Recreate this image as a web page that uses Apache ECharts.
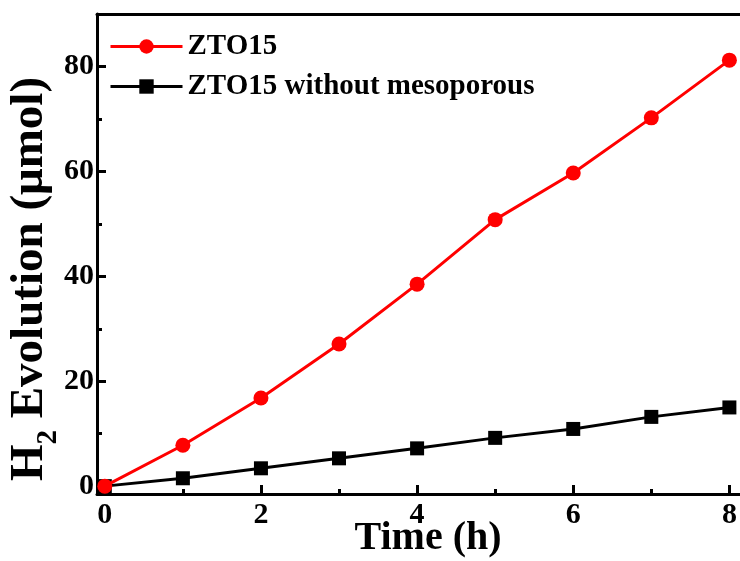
<!DOCTYPE html>
<html>
<head>
<meta charset="utf-8">
<script src="https://cdn.jsdelivr.net/npm/echarts@6/dist/echarts.min.js"></script>
<style>html,body{margin:0;padding:0;background:#fff;}#c{width:740px;height:561px;}</style>
</head>
<body>
<div id="c"></div>
<script>
const timeH = [0, 1, 2, 3, 4, 5, 6, 7, 8];
const zto15 = [0, 7.8, 16.8, 27.1, 38.5, 50.8, 59.7, 70.2, 81.2];
const zto15NoMeso = [0, 1.5, 3.4, 5.3, 7.2, 9.2, 10.9, 13.2, 15.0];
const xMajorTicks = [0, 2, 4, 6, 8];
const xMinorTicks = [1, 3, 5, 7];
const yMajorTicks = [0, 20, 40, 60, 80];
const yMinorTicks = [10, 30, 50, 70];
const seriesNames = ['ZTO15', 'ZTO15 without mesoporous'];

const FONT = '"Liberation Serif", "Times New Roman", serif';
const chart = echarts.init(document.getElementById('c'));
const pairs = (ys) => timeH.map((t, i) => [t, ys[i]]);
const XMIN = -0.1, XMAX = 8.2, YMIN = -1.5, YMAX = 90;
const lineStyle = {color: '#000', width: 3};
const none = {show: false};

function tickAxis(min, max, pos, values, len) {
  return {
    type: 'value', min, max, position: pos,
    axisLine: {show: false, onZero: false}, axisLabel: none, splitLine: none,
    axisTick: {show: true, inside: true, length: len, customValues: values, lineStyle}
  };
}

chart.setOption({
  animation: false,
  backgroundColor: '#fff',
  grid: {left: 97, right: -5, top: 14, bottom: 67, containLabel: false, outerBoundsMode: 'none'},
  legend: {
    left: 104, top: 27, orient: 'vertical',
    itemWidth: 72, itemHeight: 18, itemGap: 11,
    lineStyle: {width: 3},
    textStyle: {fontFamily: FONT, fontWeight: 'bold', fontSize: 29, color: '#000'},
    data: seriesNames
  },
  xAxis: [
    {
      type: 'value', min: XMIN, max: XMAX, position: 'bottom',
      axisLine: {show: true, onZero: false, lineStyle},
      axisTick: none,
      axisLabel: {show: true, customValues: xMajorTicks, margin: 6,
        fontFamily: FONT, fontWeight: 'bold', fontSize: 30, color: '#000'},
      splitLine: none,
      name: 'Time (h)', nameLocation: 'middle', nameGap: 25, nameMoveOverlap: false,
      nameTextStyle: {fontFamily: FONT, fontWeight: 'bold', fontSize: 40, color: '#000', padding: [0, 0, 0, 14]}
    },
    tickAxis(XMIN, XMAX, 'bottom', xMajorTicks, 9),
    tickAxis(XMIN, XMAX, 'bottom', xMinorTicks, 5),
    {
      type: 'value', min: XMIN, max: XMAX, position: 'top',
      axisLine: {show: true, onZero: false, lineStyle},
      axisTick: none, axisLabel: none, splitLine: none
    }
  ],
  yAxis: [
    {
      type: 'value', min: YMIN, max: YMAX, position: 'left',
      axisLine: {show: true, onZero: false, lineStyle},
      axisTick: none,
      axisLabel: {show: true, customValues: yMajorTicks, margin: 3,
        fontFamily: FONT, fontWeight: 'bold', fontSize: 30, color: '#000'},
      splitLine: none,
      name: '{a|H}{s|2}{a| Evolution (μmol)}', nameLocation: 'middle', nameGap: 34, nameMoveOverlap: false,
      nameTextStyle: {
        color: '#000', padding: [0, 50, 0, 0],
        rich: {
          a: {fontFamily: FONT, fontWeight: 'bold', fontSize: 47, color: '#000', lineHeight: 50},
          s: {fontFamily: FONT, fontWeight: 'bold', fontSize: 29, color: '#000', lineHeight: 66, verticalAlign: 'bottom'}
        }
      }
    },
    tickAxis(YMIN, YMAX, 'left', yMajorTicks, 9),
    tickAxis(YMIN, YMAX, 'left', yMinorTicks, 5)
  ],
  series: [
    {
      name: seriesNames[0], type: 'line', xAxisIndex: 0, yAxisIndex: 0,
      data: pairs(zto15), symbol: 'circle', symbolSize: 15,
      lineStyle: {color: '#ff0000', width: 3}, itemStyle: {color: '#ff0000'}, z: 3
    },
    {
      name: seriesNames[1], type: 'line', xAxisIndex: 0, yAxisIndex: 0,
      data: pairs(zto15NoMeso), symbol: 'rect', symbolSize: 14,
      lineStyle: {color: '#000', width: 3}, itemStyle: {color: '#000'}, z: 2
    }
  ]
});
</script>
</body>
</html>
